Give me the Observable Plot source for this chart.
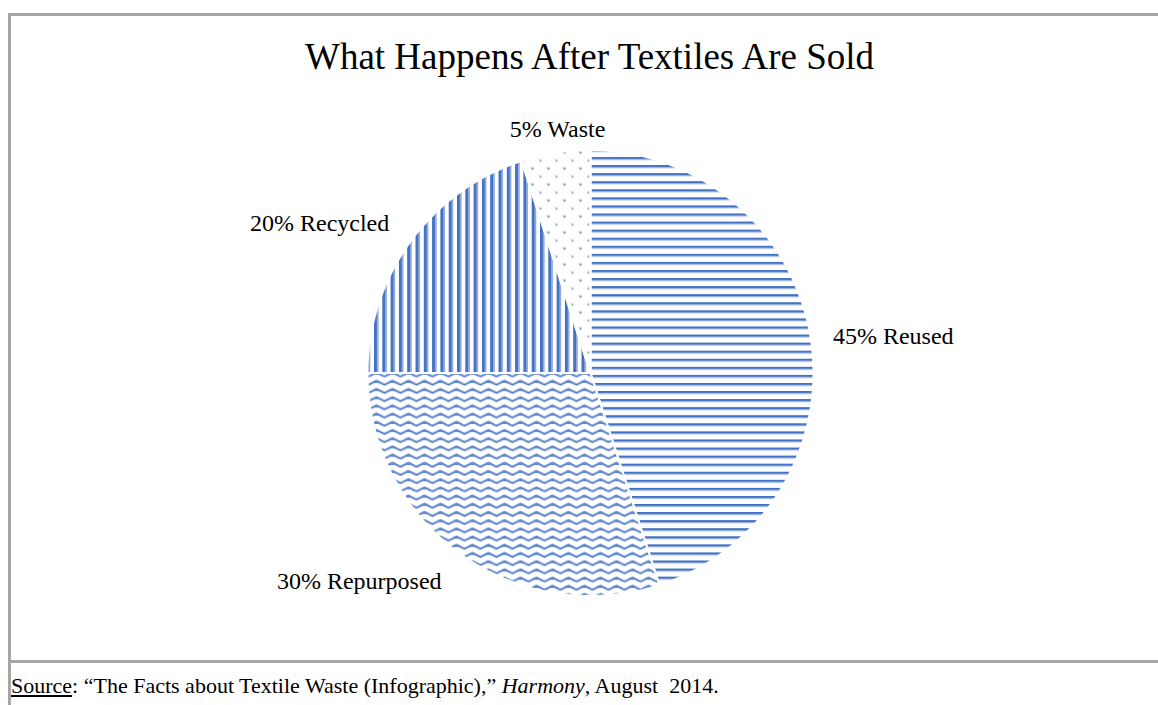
<!DOCTYPE html>
<html>
<head>
<meta charset="utf-8">
<script src="https://cdn.jsdelivr.net/npm/d3@7"></script>
<script src="https://cdn.jsdelivr.net/npm/@observablehq/plot@0.6"></script>
<style>
  html, body { margin: 0; padding: 0; background: #fff; }
  body { width: 1158px; height: 705px; overflow: hidden; position: relative;
         font-family: "Liberation Serif", "Times New Roman", serif; color: #000; }
  .frame { position: absolute; left: 8px; top: 13px; width: 1200px; height: 800px;
           border-left: 3px solid #a6a6a6; border-top: 3px solid #a6a6a6; }
  .sep { position: absolute; left: 8px; top: 660px; width: 1200px; height: 3px; background: #a6a6a6; }
  #title { position: absolute; left: 0; width: 1179px; top: 38px; text-align: center;
           font-size: 37px; line-height: 1; white-space: nowrap; }
  #source { position: absolute; left: 11px; top: 675px; font-size: 22px; line-height: 1; white-space: nowrap; }
  #chart { position: absolute; left: 0; top: 100px; }
</style>
</head>
<body>
<div class="frame"></div>
<div class="sep"></div>
<div id="title">What Happens After Textiles Are Sold</div>
<div id="chart"></div>
<div id="source"><span style="text-decoration: underline">Source</span>: “The Facts about Textile Waste (Infographic),” <i>Harmony</i>, August&nbsp; 2014.</div>
<script>
// ---- data ----
const categories = ["Reused", "Repurposed", "Recycled", "Waste"];
const shares = [45, 30, 20, 5];
const patternIds = ["pH", "pW", "pV", "pD"];

// ---- layout ----
const W = 1158, H = 560;
const cx = 590, cy = 272.5, R = 223;   // pixel centre & radius inside the svg

const rows = categories.map((c, i) => ({cat: c, value: shares[i], label: `${shares[i]}% ${c}`}));
const arcs = d3.pie().sort(null).value(d => d.value)(rows);

// slice outlines in unit-circle data coordinates (y up)
const outline = [];
for (const a of arcs) {
  outline.push({cat: a.data.cat, x: 0, y: 0});
  const n = Math.max(2, Math.ceil((a.endAngle - a.startAngle) / 0.005));
  for (let k = 0; k <= n; k++) {
    const t = a.startAngle + (a.endAngle - a.startAngle) * k / n;
    outline.push({cat: a.data.cat, x: Math.sin(t), y: Math.cos(t)});
  }
  outline.push({cat: a.data.cat, x: 0, y: 0});
}

// labels outside the slices
const lab = arcs.map(a => {
  const m = (a.startAngle + a.endAngle) / 2;
  const s = Math.sin(m), c = Math.cos(m);
  return {
    label: a.data.label,
    x: 1.06 * s, y: 1.06 * c,
    ta: s > 0.3 ? "start" : s < -0.3 ? "end" : "middle",
    la: c > 0.3 ? "bottom" : c < -0.3 ? "top" : "middle"
  };
});
const groups = d3.groups(lab, d => d.ta + "|" + d.la);
const labelMarks = groups.map(([key, ds]) => {
  const [ta, la] = key.split("|");
  return Plot.text(ds, {
    x: "x", y: "y", text: "label",
    textAnchor: ta, lineAnchor: la,
    dx: ta === "start" ? 9 : ta === "end" ? -10 : 4,
    dy: la === "bottom" ? -3 : la === "top" ? 8 : 0,
    fontSize: 24, fontFamily: "Liberation Serif", fill: "#000"
  });
});

const svg = Plot.plot({
  width: W, height: H,
  margin: 0,
  x: {domain: [-cx / R, (W - cx) / R], axis: null},
  y: {domain: [-(H - cy) / R, cy / R], axis: null},
  color: {type: "ordinal", domain: categories, range: patternIds.map(p => `url(#${p})`)},
  style: {background: "transparent", overflow: "visible"},
  marks: [
    Plot.line(outline, {x: "x", y: "y", z: "cat", fill: "cat", stroke: "#fff",
                        strokeWidth: 2, strokeLinejoin: "miter", curve: "linear"}),
    ...labelMarks
  ]
});

d3.select(svg).insert("defs", ":first-child").html(`
  <pattern id="pH" patternUnits="userSpaceOnUse" width="8" height="8.07">
    <rect x="0" y="0" width="8" height="8.07" fill="#fff"/>
    <rect x="0" y="0" width="8" height="1.8" fill="#4472C4"/>
    <rect x="0" y="1.8" width="8" height="1.2" fill="#90acdc"/>
  </pattern>
  <pattern id="pV" patternUnits="userSpaceOnUse" width="8.3" height="8">
    <rect x="0" y="0" width="8.3" height="8" fill="#fff"/>
    <rect x="0" y="0" width="3.3" height="8" fill="#4472C4"/>
    <rect x="3.3" y="0" width="1.3" height="8" fill="#90acdc"/>
  </pattern>
  <pattern id="pW" patternUnits="userSpaceOnUse" width="16" height="8.2">
    <rect x="0" y="0" width="16" height="8.2" fill="#fff"/>
    <polyline points="-4,3.5 0,5.5 8,1.5 16,5.5 20,3.5" fill="none" stroke="#6189cf" stroke-width="2.1" stroke-linejoin="round"/>
  </pattern>
  <pattern id="pD" patternUnits="userSpaceOnUse" width="16" height="16">
    <rect x="0" y="0" width="16" height="16" fill="#fff"/>
    <circle cx="4" cy="4" r="1.2" fill="#6f92d3"/>
    <circle cx="12" cy="12" r="1.2" fill="#8aa8dc"/>
  </pattern>
`);

document.getElementById("chart").appendChild(svg);
</script>
</body>
</html>
